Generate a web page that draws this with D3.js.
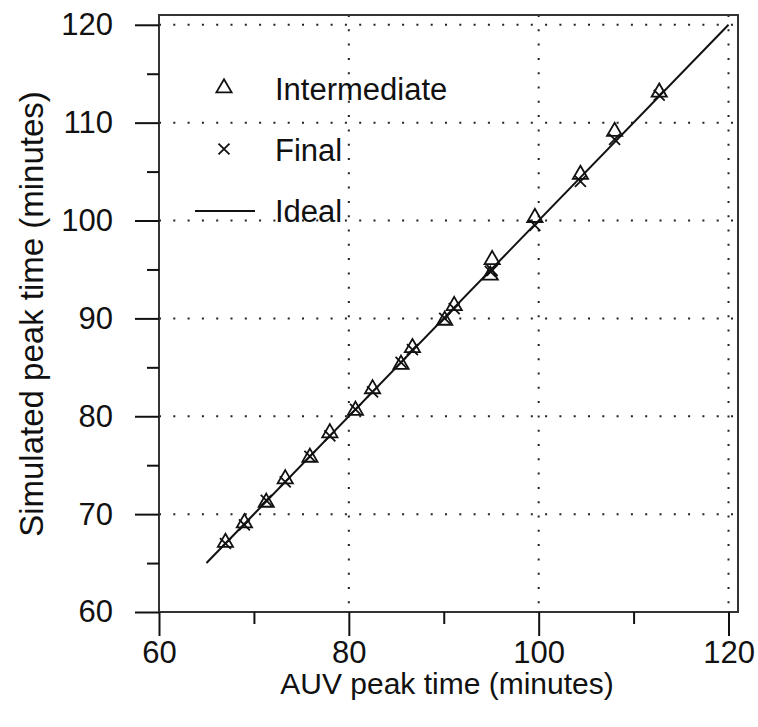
<!DOCTYPE html>
<html>
<head>
<meta charset="utf-8">
<script src="https://cdn.jsdelivr.net/npm/d3@7"></script>
<style>
  body { margin: 0; background: #fff; }
  text { font-family: "Liberation Sans", Arial, sans-serif; fill: #111; }
</style>
</head>
<body>
<script>
// data
var auvTime      = [67.0, 69.0, 71.3, 73.3, 75.9, 78.0, 80.7, 82.5, 85.5, 86.7, 90.1, 91.1, 94.9, 95.1, 99.6, 104.4, 108.0, 112.7];
var intermediate = [67.1, 69.1, 71.2, 73.6, 75.8, 78.3, 80.6, 82.8, 85.3, 87.0, 89.8, 91.3, 94.4, 96.0, 100.3, 104.7, 109.1, 113.1];
var finalTime    = [67.0, 68.9, 71.4, 73.3, 75.9, 78.0, 80.7, 82.5, 85.5, 86.8, 90.0, 91.0, 94.8, 94.9, 99.5, 104.0, 108.3, 112.8];
var ideal = [65, 120];

var xMajor = [60, 80, 100, 120];
var xMinor = [70, 90, 110];
var yMajor = [60, 70, 80, 90, 100, 110, 120];
var yMinor = [65, 75, 85, 95, 105, 115];
var xGrid = [80, 100, 120];
var yGrid = [70, 80, 90, 100, 110, 120];

var legendItems = ["Intermediate", "Final", "Ideal"];

//Sizes
var margin = {top: 15, right: 20, bottom: 115, left: 159};
var width = 758 - margin.left - margin.right;
var height = 727 - margin.top - margin.bottom;

var svg = d3.select("body").append("svg")
    .attr("width", 758)
    .attr("height", 727);

var g = svg.append("g")
    .attr("transform", "translate(" + margin.left + "," + margin.top + ")");

//Scales
var x = d3.scaleLinear().domain([60, 121]).range([0, width]);
var y = d3.scaleLinear().domain([60, 121]).range([height, 0]);

//Grid (dotted)
g.selectAll(".vgrid").data(xGrid).enter().append("line")
    .attr("x1", (d) => x(d)).attr("x2", (d) => x(d))
    .attr("y1", 0).attr("y2", height)
    .attr("stroke", "#222").attr("stroke-width", 2)
    .attr("stroke-dasharray", "2,12.3");

g.selectAll(".hgrid").data(yGrid).enter().append("line")
    .attr("x1", 0).attr("x2", width)
    .attr("y1", (d) => y(d)).attr("y2", (d) => y(d))
    .attr("stroke", "#222").attr("stroke-width", 2)
    .attr("stroke-dasharray", "2,12.3");

//Frame
g.append("rect")
    .attr("x", 0).attr("y", 0)
    .attr("width", width).attr("height", height)
    .attr("fill", "none")
    .attr("stroke", "#333")
    .attr("stroke-width", 2);

//Axes
function styleAxis(sel) {
    sel.select(".domain").remove();
    sel.selectAll("line").attr("stroke", "#111").attr("stroke-width", 2);
    sel.selectAll("text").attr("font-size", "31px").attr("fill", "#111")
        .style("font-family", "'Liberation Sans', Arial, sans-serif");
}

g.append("g")
    .attr("transform", "translate(0," + height + ")")
    .call(d3.axisBottom(x).tickValues(xMajor).tickSize(24).tickPadding(5).tickFormat(d3.format("d")))
    .call(styleAxis);

g.append("g")
    .attr("transform", "translate(0," + height + ")")
    .call(d3.axisBottom(x).tickValues(xMinor).tickSize(12).tickFormat(""))
    .call(styleAxis);

g.append("g")
    .call(d3.axisLeft(y).tickValues(yMajor).tickSize(24).tickPadding(22).tickFormat(d3.format("d")))
    .call(styleAxis);

g.append("g")
    .call(d3.axisLeft(y).tickValues(yMinor).tickSize(12).tickFormat(""))
    .call(styleAxis);

//Axis labels
svg.append("text")
    .attr("x", 447)
    .attr("y", 694)
    .attr("font-size", "30px")
    .attr("text-anchor", "middle")
    .text("AUV peak time (minutes)");

svg.append("text")
    .attr("transform", "translate(43,314) rotate(-90)")
    .attr("font-size", "33px")
    .attr("text-anchor", "middle")
    .text("Simulated peak time (minutes)");

//Ideal line
var line = d3.line().x((d) => x(d)).y((d) => y(d));
g.append("path")
    .datum(ideal)
    .attr("d", line)
    .attr("fill", "none")
    .attr("stroke", "#111")
    .attr("stroke-width", 2);

//Markers
var tri = d3.symbol().type(d3.symbolTriangle).size(100);
var cross = d3.symbol().type(d3.symbolTimes).size(80);

g.selectAll(".inter").data(auvTime).enter().append("path")
    .attr("d", tri)
    .attr("transform", (d, i) => "translate(" + x(d) + "," + y(intermediate[i]) + ")")
    .attr("fill", "none")
    .attr("stroke", "#111")
    .attr("stroke-width", 1.8);

g.selectAll(".final").data(auvTime).enter().append("path")
    .attr("d", cross)
    .attr("transform", (d, i) => "translate(" + x(d) + "," + y(finalTime[i]) + ")")
    .attr("fill", "none")
    .attr("stroke", "#111")
    .attr("stroke-width", 1.8);

//Legend
var legend = svg.append("g");
legend.append("path").attr("d", tri)
    .attr("transform", "translate(224,88)")
    .attr("fill", "none").attr("stroke", "#111").attr("stroke-width", 1.8);
legend.append("path").attr("d", cross)
    .attr("transform", "translate(224,149)")
    .attr("fill", "none").attr("stroke", "#111").attr("stroke-width", 1.8);
legend.append("line")
    .attr("x1", 195).attr("x2", 255).attr("y1", 211).attr("y2", 211)
    .attr("stroke", "#111").attr("stroke-width", 2);

legend.selectAll(".lt").data(legendItems).enter().append("text")
    .attr("x", 275)
    .attr("y", (d, i) => 100 + i * 61)
    .attr("font-size", "31px")
    .text((d) => d);
</script>
</body>
</html>
